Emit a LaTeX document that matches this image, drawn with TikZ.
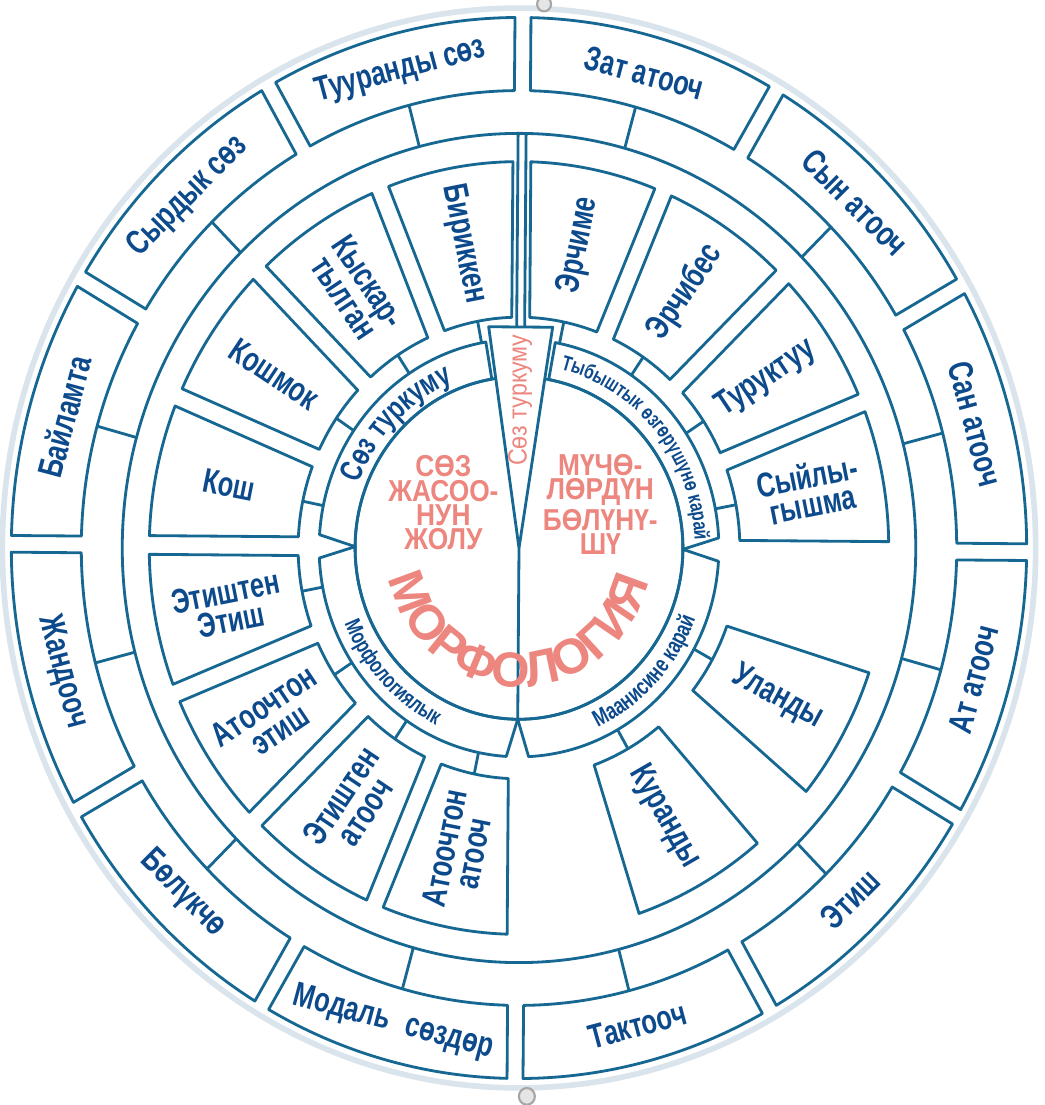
\documentclass[tikz,border=0pt]{standalone}
\usepackage{fontspec}
\usetikzlibrary{decorations.text}
\newfontfamily\condfont{Liberation Sans}[FakeStretch=0.74]
\newfontfamily\redfont{Liberation Sans}[FakeStretch=0.87]
\newfontfamily\bigfont{Liberation Sans}[FakeStretch=0.88]
\newfontfamily\hugefont{Liberation Sans}[FakeStretch=1.0]
\definecolor{linecol}{RGB}{22,104,146}
\definecolor{txtcol}{RGB}{12,74,140}
\definecolor{redcol}{RGB}{236,134,126}
\definecolor{rimcol}{RGB}{218,228,236}
\newcommand\boxfont{\condfont\bfseries\fontsize{9.8}{8.2}\selectfont}
\newcommand\bandfontA{\condfont\bfseries\fontsize{9}{9}\selectfont}
\newcommand\bandfontD{\condfont\bfseries\fontsize{6}{6}\selectfont}
\newcommand\bandfontC{\condfont\bfseries\fontsize{6.7}{6.7}\selectfont}
\newcommand\bandfontB{\condfont\bfseries\fontsize{6.4}{6.4}\selectfont}
\newcommand\redblockfont{\redfont\bfseries\fontsize{8.6}{6.9}\selectfont}
\newcommand\wedgefont{\bigfont\fontsize{7.5}{7.5}\selectfont}
\newcommand\bigredfont{\hugefont\bfseries\fontsize{14}{14}\selectfont}

\tikzset{
  ln/.style={draw=linecol, line width=0.8pt, line join=round},
  boxlabel/.style={text=txtcol, font=\boxfont, align=center, inner sep=0pt},
  redlabel/.style={text=redcol, font=\redblockfont, align=center, inner sep=0pt},
}

\newcommand\outerbox[3]{%
  \pgfmathsetmacro\oa{#1+1.05}%
  \pgfmathsetmacro\ob{#1+0.9}%
  \pgfmathsetmacro\oc{#1+29.1}%
  \pgfmathsetmacro\od{#1+28.95}%
  \pgfmathsetmacro\om{#1+15}%
  \pgfmathsetmacro\orot{\om-90+180*(\om>180)}%
  \draw[ln] (\oa:438) -- (\ob:508) arc[start angle=\ob, end angle=\oc, radius=508] -- (\od:438) arc[start angle=\od, end angle=\oa, radius=438] -- cycle;
  \node[boxlabel, rotate=\orot] (#3) at (\om:472) {#2};
  \coordinate (#3-in) at (\om:438);
  \coordinate (#3-ring) at (\om:397);
  \draw[ln] (#3-ring) -- (#3-in);
}

\newcommand\innerbox[4]{%
  \pgfmathsetmacro\ia{#1+2.33}%
  \pgfmathsetmacro\ib{#1+1.39}%
  \pgfmathsetmacro\ic{#2-1.39}%
  \pgfmathsetmacro\id{#2-2.33}%
  \pgfmathsetmacro\im{(#1+#2)/2}%
  \pgfmathsetmacro\irot{\im-180*(\im>90)*(\im<270)}%
  \draw[ln] (\ia:221) -- (\ib:370) arc[start angle=\ib, end angle=\ic, radius=370] -- (\id:221) arc[start angle=\id, end angle=\ia, radius=221] -- cycle;
  \node[boxlabel, rotate=\irot] (#4) at (\im:296) {#3};
  \coordinate (#4-in) at (\im:221);
  \coordinate (#4-band) at (\im:200);
  \draw[ln] (#4-band) -- (#4-in);
}

\begin{document}
\begin{tikzpicture}
\useasboundingbox (0,0) rectangle (10.45cm,11.05cm);
\fill[white] (0,0) rectangle (10.45cm,11.05cm);
\begin{scope}[shift={(5.19cm,5.57cm)}, x=0.01cm, y=0.01cm, yscale=1.045, rotate=-0.45]
  % disc rim and pins
  \draw[rimcol, line width=1.6pt] (0,0) circle[radius=517];
  \draw[gray!70, fill=gray!20, line width=0.6pt] (21,521) circle[radius=7];
  \draw[gray!70, fill=gray!20, line width=0.6pt] (12,-525) circle[radius=8];

  % ring circle
  \draw[ln] (0,0) circle[radius=397];

  % outer boxes
  \outerbox{60}{Зат атооч}{zat}
  \outerbox{30}{Сын атооч}{syn}
  \outerbox{0}{Сан атооч}{san}
  \outerbox{330}{Ат атооч}{at}
  \outerbox{300}{Этиш}{etish}
  \outerbox{270}{Тактооч}{tak}
  \outerbox{240}{Модаль\enspace сөздөр}{modal}
  \outerbox{210}{Бөлүкчө}{bol}
  \outerbox{180}{Жандооч}{jan}
  \outerbox{150}{Байламта}{bai}
  \outerbox{120}{Сырдык сөз}{syr}
  \outerbox{90}{Тууранды сөз}{tuu}

  % inner boxes
  \innerbox{0}{22.5}{Сыйлы-\\гышма}{syi}
  \innerbox{22.5}{45}{Туруктуу}{tur}
  \innerbox{45}{67.5}{Эрчибес}{erb}
  \innerbox{67.5}{90}{Эрчиме}{erm}
  \innerbox{90}{112.5}{Бириккен}{bir}
  \innerbox{112.5}{135}{Кыскар-\\тылган}{kys}
  \innerbox{135}{157.5}{Кошмок}{kshm}
  \innerbox{157.5}{180}{Кош}{kosh}
  \innerbox{180}{202.5}{Этиштен\\Этиш}{ee}
  \innerbox{202.5}{225}{Атоочтон\\этиш}{ae}
  \innerbox{225}{247.5}{Этиштен\\атооч}{ea}
  \innerbox{247.5}{270}{Атоочтон\\атооч}{aa}
  \innerbox{288}{312}{Куранды}{kur}
  \innerbox{320}{343}{Уланды}{ula}

  % label bands
  \draw[ln] (100:164) -- (100:200) arc[start angle=100, end angle=176.8, radius=200] -- (180:164) arc[start angle=180, end angle=100, radius=164] -- cycle;
  \draw[ln] (180:164) -- (183.2:200) arc[start angle=183.2, end angle=266.8, radius=200] -- (270:164) arc[start angle=270, end angle=180, radius=164] -- cycle;
  \draw[ln] (270:164) -- (273.2:200) arc[start angle=273.2, end angle=356.8, radius=200] -- (360:164) arc[start angle=360, end angle=270, radius=164] -- cycle;
  \draw[ln] (0:164) -- (3.2:200) arc[start angle=3.2, end angle=80, radius=200] -- (80:164) arc[start angle=80, end angle=0, radius=164] -- cycle;

  % inner circle, wedge, centre line
  \draw[ln] (98.6:164) arc[start angle=98.6, end angle=441.4, radius=164];
  \coordinate (ctr) at (0,0);
  \coordinate (wl) at (98.6:214);
  \coordinate (wr) at (81.4:214);
  \draw[ln] (ctr) -- (wl) -- (wr) -- cycle;
  \coordinate (cbot) at (270:164);
  \draw[ln] (ctr) -- (cbot);
  \coordinate (s1a) at (-4,211.6);
  \coordinate (s1b) at (-4,397);
  \coordinate (s2a) at (4,211.6);
  \coordinate (s2b) at (4,397);
  \draw[ln] (s1a) -- (s1b);
  \draw[ln] (s2a) -- (s2b);

  % band labels
  \path[decorate, decoration={text along path, text={|\bandfontA|Сөз туркуму}, text color=txtcol, text align=center}]
    (164:172) arc[start angle=164, end angle=108, radius=172];
  \path[decorate, decoration={text along path, text={|\bandfontD|Тыбыштык өзгөрүшүнө карай}, text color=txtcol, text align=center}]
    (86:176) arc[start angle=86, end angle=-6, radius=176];
  \path[decorate, decoration={text along path, text={|\bandfontC|Маанисине карай}, text color=txtcol, text align=center}]
    (276:189) arc[start angle=276, end angle=358, radius=189];
  \path[decorate, decoration={text along path, text={|\bandfontB|Морфологиялык}, text color=txtcol, text align=center}]
    (188:189) arc[start angle=188, end angle=260, radius=189];

  % red texts
  \node[redlabel] (sozj) at (-76,42.6) {СӨЗ\\ЖАСОО-\\НУН\\ЖОЛУ};
  \node[redlabel] (much) at (81,42.6) {МҮЧӨ-\\ЛӨРДҮН\\БӨЛҮНҮ-\\ШҮ};
  \node[text=redcol, font=\wedgefont, rotate=90, inner sep=0pt] (wtxt) at (0,141.6) {Сөз туркуму};
  \path[decorate, decoration={text along path, text={|\bigredfont|МОРФОЛОГИЯ}, text color=redcol, text align=center}]
    (182:133) arc[start angle=182, end angle=358, radius=133];
\end{scope}
\end{tikzpicture}
\end{document}
